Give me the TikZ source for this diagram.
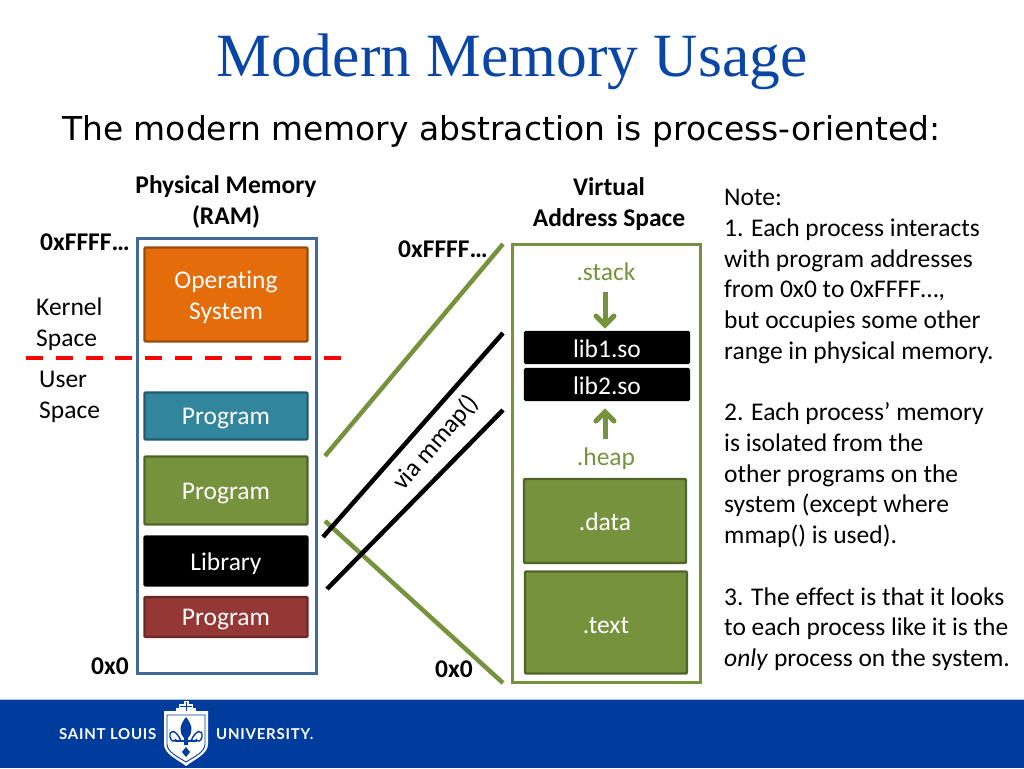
\documentclass[tikz,border=0pt]{standalone}
\usepackage{fontspec}
\usetikzlibrary{calc}
\setmainfont[Ligatures=CommonOff]{Carlito}
\newfontfamily\titlefont{Liberation Serif}
\newfontfamily\subfont{DejaVu Sans}
\newfontfamily\logofont[LetterSpace=5]{Lato}
\definecolor{titleblue}{RGB}{10,70,165}
\definecolor{slublue}{RGB}{0,60,155}
\definecolor{ramblue}{RGB}{65,105,155}
\definecolor{vgreen}{RGB}{118,146,60}
\definecolor{vgreendark}{RGB}{80,100,40}
\definecolor{osorange}{RGB}{228,108,10}
\definecolor{osedge}{RGB}{150,75,15}
\definecolor{tealb}{RGB}{49,133,156}
\definecolor{tealedge}{RGB}{35,90,110}
\definecolor{redb}{RGB}{149,55,53}
\definecolor{rededge}{RGB}{105,40,38}
\newcommand{\dn}[1]{\raisebox{-3pt}[\height][\depth]{#1}}
\newcommand{\dnone}[1]{\raisebox{-1pt}[\height][\depth]{#1}}
\tikzset{
  x=1pt,y=-1pt,
  seg/.style={draw=#1,line width=2.4pt,rounded corners=1pt,inner sep=0pt,text=white,align=center,font=\fontsize{25.5}{31}\selectfont},
  lbl/.style={inner sep=0pt,align=left,font=\fontsize{25.5}{31}\selectfont},
  head/.style={inner sep=0pt,align=center,font=\bfseries\fontsize{25.5}{31}\selectfont},
  addr/.style={inner sep=0pt,font=\bfseries\fontsize{25.5}{31}\selectfont},
  glabel/.style={inner sep=0pt,text=vgreen,font=\fontsize{25.5}{31}\selectfont},
  mapg/.style={draw=vgreen,line width=4.5pt},
  mapk/.style={draw=black,line width=4.5pt},
  growarrow/.style={draw=vgreen,line width=5pt},
  logotext/.style={inner sep=0pt,text=white,font=\logofont\bfseries\fontsize{15}{18}\selectfont}
}
\begin{document}
\begin{tikzpicture}
\useasboundingbox (0,0) rectangle (1024,768);
\fill[white] (0,0) rectangle (1024,768);
% footer
\fill[slublue] (0,700) rectangle (1024,768);
\fill[white!70!slublue] (0,699) rectangle (1024,700);
\node[logotext,anchor=west] (slu1) at (59,734) {SAINT LOUIS};
\node[logotext,anchor=west] (slu2) at (216,734) {UNIVERSITY.};
% shield
\fill[white] (164,711) -- (208,711) -- (208,744) .. controls (208,754) and (195,759) .. (186,766) .. controls (177,759) and (164,754) .. (164,744) -- cycle;
\draw[slublue,line width=.9pt] (167,715) -- (205,715) -- (205,744) .. controls (205,752) and (194,757) .. (186,762) .. controls (178,757) and (167,752) .. (167,744) -- cycle;
\fill[white] (183.5,701) rectangle (188.5,712);
\fill[white] (179,704) rectangle (193,708);
\fill[white] (176,708) rectangle (196,712);
\draw[slublue,line width=.7pt] (186,702) -- (186,711) (180,706) -- (192,706);
% fleur-de-lis
\fill[slublue] (186,717) .. controls (179,726) and (179,732) .. (184,738) -- (184,745) -- (188,745) -- (188,738) .. controls (193,732) and (193,726) .. (186,717) -- cycle;
\draw[slublue,line width=1.4pt] (181,741) .. controls (176,729) and (169,729) .. (170,737) .. controls (171,742) and (175,742) .. (176,739);
\draw[slublue,line width=1.4pt] (191,741) .. controls (196,729) and (203,729) .. (202,737) .. controls (201,742) and (197,742) .. (196,739);
\fill[slublue] (175,740) rectangle (197,742);
\fill[slublue] (186,747) -- (190,752) -- (186,757) -- (182,752) -- cycle;
% titles
\node[inner sep=0pt,text=titleblue,font=\titlefont\fontsize{61.5}{66}\selectfont] (title) at (512,62) {Modern Memory Usage};
\node[inner sep=0pt,font=\subfont\fontsize{32.9}{40}\selectfont,anchor=west] (sub) at (62,131) {The modern memory abstraction is process-oriented:};
\node[head] (phead) at (226,202) {Physical Memory\\(RAM)};
\node[head] (vhead) at (609,204) {Virtual\\Address Space};
% physical
\node[draw=ramblue,line width=3pt,inner sep=0pt,minimum width=179pt,minimum height=435pt] (ram) at (226.5,456) {};
\node[seg=osedge,fill=osorange,minimum width=163pt,minimum height=94pt] (os) at (226,294.5) {\dn{Operating}\\\dn{System}};
\node[seg=tealedge,fill=tealb,minimum width=163pt,minimum height=47pt] (p1) at (226,416) {\dn{Program}};
\node[seg=vgreendark,fill=vgreen,minimum width=163pt,minimum height=68pt] (p2) at (226,490.5) {\dn{Program}};
\node[seg=black,fill=black,minimum width=163pt,minimum height=49pt] (lib) at (226,561) {\dn{Library}};
\node[seg=rededge,fill=redb,minimum width=163pt,minimum height=40pt] (p3) at (226,617) {\dn{Program}};
\coordinate (d1) at (26,358);
\coordinate (d2) at (342,358);
\draw[red,line width=4.6pt,dash pattern=on 17pt off 12.8pt] (d1) -- (d2);
\node[lbl,anchor=west] (kern) at (36,324) {Kernel\\Space};
\node[lbl,anchor=west] (user) at (39,397) {User\\Space};
\node[addr] (a1) at (85,242) {0xFFFF…};
\node[addr] (a2) at (110,666) {0x0};
% mappings
\coordinate (m1a) at (325,456); \coordinate (m1b) at (503,244);
\coordinate (m2a) at (325,521); \coordinate (m2b) at (503,683);
\coordinate (m3a) at (323,537); \coordinate (m3b) at (503,333);
\coordinate (m4a) at (327,589); \coordinate (m4b) at (503,410);
\draw[mapg] (m1a) -- (m1b);
\draw[mapg] (m2a) -- (m2b);
\draw[mapk] (m3a) -- (m3b);
\draw[mapk] (m4a) -- (m4b);
\node[inner sep=0pt,rotate=49,font=\fontsize{25.5}{28}\selectfont] (mmap) at (436,443) {via mmap()};
\node[addr] (a3) at (443,249) {0xFFFF…};
\node[addr] (a4) at (454,669) {0x0};
% virtual
\node[draw=vgreen,line width=3pt,inner sep=0pt,minimum width=188pt,minimum height=438pt] (vas) at (606,463) {};
\node[glabel] (stack) at (606,272) {.stack};
\node[seg=black,fill=black,minimum width=164pt,minimum height=31pt] (lib1) at (607,347.5) {\dnone{lib1.so}};
\node[seg=black,fill=black,minimum width=164pt,minimum height=31pt] (lib2) at (607,384.5) {\dnone{lib2.so}};
\node[glabel] (heap) at (606,459) {.heap};
\node[seg=vgreendark,fill=vgreen,minimum width=162pt,minimum height=84pt] (data) at (605,521) {\dnone{.data}};
\node[seg=vgreendark,fill=vgreen,minimum width=162pt,minimum height=102pt] (text) at (606,622.5) {\dn{.text}};
\coordinate (s1) at (605,292); \coordinate (s2) at (605,325);
\coordinate (h1) at (605,439); \coordinate (h2) at (605,412);
\draw[growarrow] (s1) -- (s2);
\draw[growarrow,line cap=round] ($(s2)+(-9,-9)$) -- (s2) -- ($(s2)+(9,-9)$);
\draw[growarrow] (h1) -- (h2);
\draw[growarrow,line cap=round] ($(h2)+(-9,9)$) -- (h2) -- ($(h2)+(9,9)$);
% note
\node[inner sep=0pt,align=left,anchor=north west,font=\fontsize{25.5}{30.73}\selectfont] (note) at (724,189) {Note:\\
1. Each process interacts\\
with program addresses\\
from 0x0 to 0xFFFF…,\\
but occupies some other\\
range in physical memory.\\[30.73pt]
2. Each process’ memory\\
is isolated from the\\
other programs on the\\
system (except where\\
mmap() is used).\\[30.73pt]
3. The effect is that it looks\\
to each process like it is the\\
\textit{only} process on the system.};
\end{tikzpicture}
\end{document}
